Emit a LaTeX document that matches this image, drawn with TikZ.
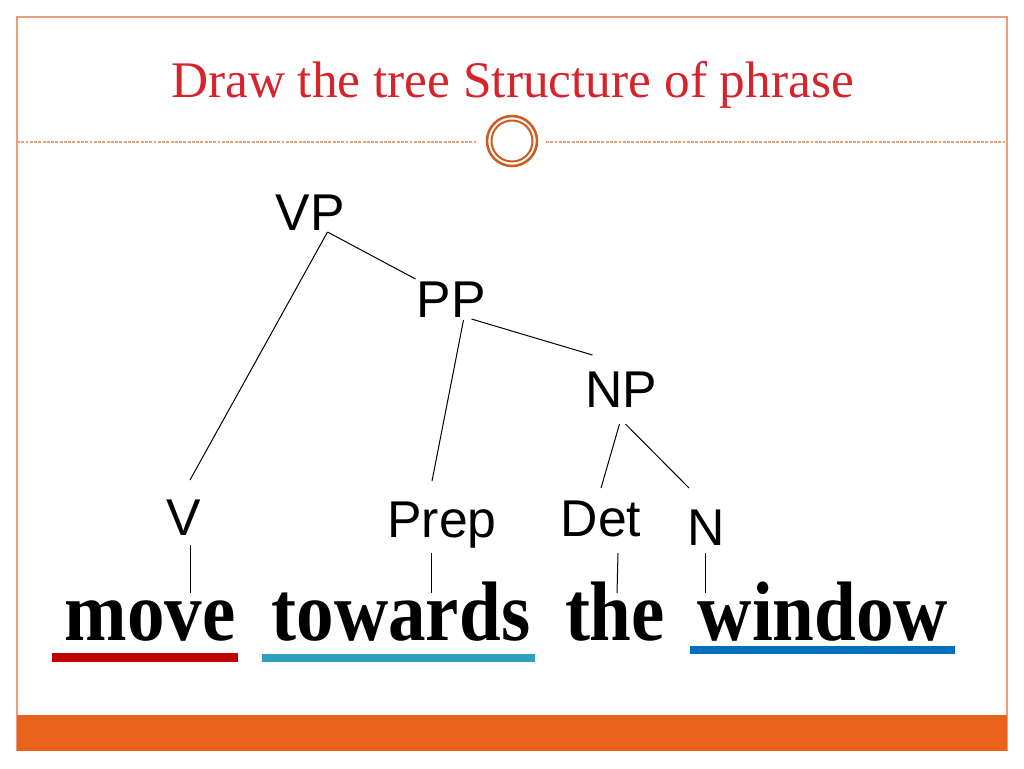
\documentclass[tikz,border=0pt]{standalone}
\usepackage{fontspec}
\setmainfont{Liberation Serif}
\newfontfamily\treesans{Liberation Sans}
\usetikzlibrary{calc}
\definecolor{titlered}{RGB}{214,36,44}
\definecolor{framecol}{RGB}{232,160,124}
\definecolor{barcol}{RGB}{233,99,30}
\definecolor{ringcol}{RGB}{206,92,32}
\definecolor{ulred}{RGB}{192,0,0}
\definecolor{ulteal}{RGB}{49,160,192}
\definecolor{ulblue}{RGB}{0,112,192}
\tikzset{
  lab/.style={font=\treesans\fontsize{38.8}{40}\selectfont, inner sep=0pt, anchor=base},
  word/.style={font=\bfseries\fontsize{61.5}{62}\selectfont, inner sep=0pt, anchor=base},
  edge/.style={line width=0.75pt, black},
}
\newcommand{\wordsq}[1]{\scalebox{0.915}[1.03]{#1}}
\begin{document}
\begin{tikzpicture}[x=0.75pt,y=-0.75pt]
\useasboundingbox (0,0) rectangle (1024,768);
\fill[white] (0,0) rectangle (1024,768);
% frame and bar
\draw[framecol, line width=1.1pt] (17,751) -- (17,17) -- (1007,17) -- (1007,751);
\fill[barcol] (17,715) rectangle (1007,751);
% title
\node[font=\fontsize{38.5}{40}\selectfont, text=titlered, inner sep=0pt, anchor=base] (title) at (512.5,97) {Draw the tree Structure of phrase};
% dashed rule and ring
\draw[framecol, line width=1.1pt, dash pattern=on 2.2pt off 1pt] (17,142) -- (477,142);
\draw[framecol, line width=1.1pt, dash pattern=on 2.2pt off 1pt] (546,142) -- (1007,142);
\draw[ringcol, line width=1.9pt] (512,141) circle[radius=25];
\draw[ringcol, line width=1.5pt] (512,141) circle[radius=20.5];
% tree labels
\node[lab] (VP) at (310.5,230) {VP};
\node[lab] (PP) at (451.5,317) {PP};
\node[lab] (NP) at (621.5,407) {NP};
\node[lab] (V) at (184,535) {V};
\node[lab] (Prep) at (442,537) {Prep};
\node[lab] (Det) at (601,536) {Det};
\node[lab] (N) at (706,545) {N};
% words
\node[word] (wmove) at (150,640) {\wordsq{move}};
\node[word] (wtowards) at (401,640) {\wordsq{towards}};
\node[word] (wthe) at (615,640) {\wordsq{the}};
\node[word] (wwindow) at (823,640) {\wordsq{window}};
% underlines
\fill[ulred] (52,653) rectangle (238,662);
\fill[ulteal] (262,654) rectangle (535,662);
\fill[ulblue] (690,646) rectangle (955,654);
% connectors
\draw[edge] ($(VP.base)+(17,2)$) -- ($(PP.base)+(-36,-38)$);
\draw[edge] ($(VP.base)+(17,2)$) -- ($(V.base)+(6,-55)$);
\draw[edge] ($(PP.base)+(12,3)$) -- ($(Prep.base)+(-10,-56)$);
\draw[edge] ($(PP.base)+(20,2)$) -- ($(NP.base)+(-29,-52)$);
\draw[edge] ($(NP.base)+(-2,17)$) -- ($(Det.base)+(0,-48)$);
\draw[edge] ($(NP.base)+(4,17)$) -- ($(N.base)+(-17,-57)$);
\draw[edge] ($(V.base)+(6,10)$) -- ($(wmove.base)+(40,-47)$);
\draw[edge] ($(Prep.base)+(-11,16)$) -- ($(wtowards.base)+(30,-47)$);
\draw[edge] ($(Det.base)+(17,17)$) -- ($(wthe.base)+(2,-47)$);
\draw[edge] ($(N.base)+(-1,8)$) -- ($(wwindow.base)+(-118,-47)$);
\end{tikzpicture}
\end{document}
